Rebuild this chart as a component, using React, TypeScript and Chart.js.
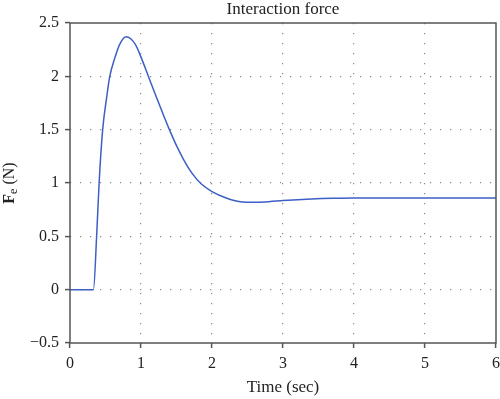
import React, { useEffect, useRef } from "react";
import { Chart, registerables } from "chart.js";

Chart.register(...registerables);

const timeSec = [0, 0.33, 0.375, 0.41, 0.46, 0.52, 0.56, 0.63, 0.7, 0.79, 0.92, 1.0, 1.11, 1.22, 1.32, 1.4, 1.5, 1.6, 1.72, 1.85, 2.0, 2.2, 2.4, 2.6, 2.8, 3.0, 3.4, 3.7, 4.0, 5.0, 6.0];
const forceN = [0, 0, 0.5, 1.0, 1.5, 1.82, 2.0, 2.17, 2.3, 2.37, 2.3, 2.18, 1.99, 1.8, 1.63, 1.5, 1.35, 1.22, 1.09, 0.99, 0.92, 0.86, 0.825, 0.82, 0.825, 0.835, 0.85, 0.857, 0.86, 0.86, 0.86];
const xTicks = [0, 1, 2, 3, 4, 5, 6];
const yTicks = [-0.5, 0, 0.5, 1, 1.5, 2, 2.5];
const chartTitle = "Interaction force";
const xTitle = "Time (sec)";

const FONT = "'Liberation Serif', 'Times New Roman', serif";

const fmt = (v: number) => {
  const s = String(Math.round(v * 10) / 10);
  return s.startsWith("-") ? "\u2212" + s.slice(1) : s;
};

const decorPlugin = {
  id: "decor",
  afterDraw(chart: any) {
    const { ctx, chartArea } = chart;
    const { left, right, top, bottom } = chartArea;
    ctx.save();
    // frame
    ctx.strokeStyle = "#555";
    ctx.lineWidth = 1.5;
    ctx.strokeRect(left, top, right - left, bottom - top);
    // title
    ctx.fillStyle = "#222";
    ctx.font = `17px ${FONT}`;
    ctx.textAlign = "center";
    ctx.textBaseline = "alphabetic";
    const cx = (left + right) / 2;
    ctx.fillText(chartTitle, cx, 14);
    // x title
    ctx.fillText(xTitle, cx, 392);
    // y title: F (bold) + subscript e + " (N)"
    const cy = (top + bottom) / 2;
    ctx.translate(8, cy);
    ctx.rotate(-Math.PI / 2);
    ctx.textAlign = "left";
    ctx.textBaseline = "alphabetic";
    const fBold = `bold 16px ${FONT}`;
    const fSub = `12px ${FONT}`;
    const fReg = `16px ${FONT}`;
    ctx.font = fBold;
    const w1 = ctx.measureText("F").width;
    ctx.font = fSub;
    const w2 = ctx.measureText("e").width;
    ctx.font = fReg;
    const w3 = ctx.measureText(" (N)").width;
    let x = -(w1 + w2 + w3) / 2;
    const base = 6;
    ctx.font = fBold;
    ctx.fillText("F", x, base);
    x += w1;
    ctx.font = fSub;
    ctx.fillText("e", x, base + 3);
    x += w2;
    ctx.font = fReg;
    ctx.fillText(" (N)", x, base);
    ctx.restore();
  },
};

export default function App() {
  const ref = useRef<HTMLCanvasElement | null>(null);
  useEffect(() => {
    document.body.style.margin = "0";
    const canvas = ref.current;
    if (!canvas) return;
    const points = timeSec.map((t, i) => ({ x: t, y: forceN[i] }));
    const chart = new Chart(canvas, {
      type: "line",
      data: {
        datasets: [
          {
            data: points,
            borderColor: "#3d5fc6",
            borderWidth: 1.5,
            pointRadius: 0,
            cubicInterpolationMode: "monotone",
            fill: false,
          },
        ],
      },
      options: {
        animation: false,
        responsive: false,
        layout: { padding: { left: 0, top: 23, right: 4, bottom: 0 } },
        plugins: { legend: { display: false }, tooltip: { enabled: false }, title: { display: false } },
        scales: {
          x: {
            type: "linear",
            min: 0,
            max: 6,
            afterBuildTicks: (s: any) => {
              s.ticks = xTicks.map((v) => ({ value: v }));
            },
            afterFit: (s: any) => {
              s.height = 56;
              s.paddingLeft = 0;
              s.paddingRight = 0;
            },
            ticks: {
              color: "#222",
              font: { family: FONT, size: 16 },
              padding: 6,
              maxRotation: 0,
              callback: (v: any) => fmt(Number(v)),
            },
            grid: {
              color: (c: any) => (c.tick && (c.tick.value === 0 || c.tick.value === 6) ? "rgba(0,0,0,0)" : "#8a8a8a"),
              lineWidth: 1.2,
              tickColor: "#555",
              tickLength: 5,
              tickWidth: 1.5,
              tickBorderDash: [],
            },
            border: { display: false, dash: [1.2, 8.8] },
          },
          y: {
            type: "linear",
            min: -0.5,
            max: 2.5,
            afterBuildTicks: (s: any) => {
              s.ticks = yTicks.map((v) => ({ value: v }));
            },
            afterFit: (s: any) => {
              s.width = 70;
              s.paddingTop = 0;
              s.paddingBottom = 0;
            },
            ticks: {
              color: "#222",
              font: { family: FONT, size: 16 },
              padding: 6,
              callback: (v: any) => fmt(Number(v)),
            },
            grid: {
              color: (c: any) => (c.tick && (c.tick.value === -0.5 || c.tick.value === 2.5) ? "rgba(0,0,0,0)" : "#8a8a8a"),
              lineWidth: 1.2,
              tickColor: "#555",
              tickLength: 5,
              tickWidth: 1.5,
              tickBorderDash: [],
            },
            border: { display: false, dash: [1.2, 8.8] },
          },
        },
      },
      plugins: [decorPlugin],
    } as any);
    return () => chart.destroy();
  }, []);
  return (
    <div style={{ width: 500, height: 399, background: "#fff" }}>
      <canvas ref={ref} width={500} height={399} style={{ display: "block" }} />
    </div>
  );
}
